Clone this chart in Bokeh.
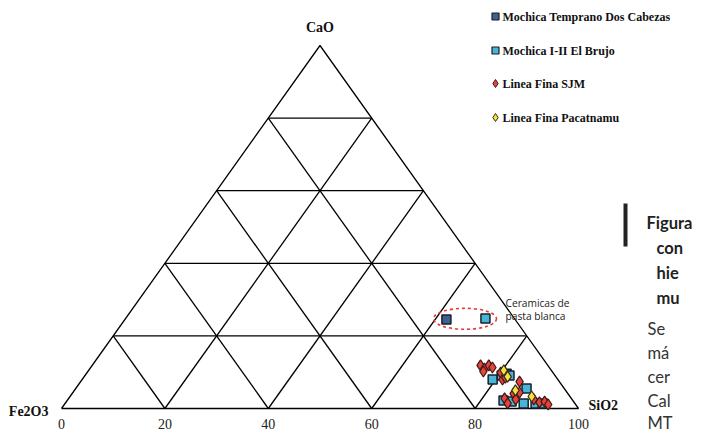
from bokeh.plotting import figure
from bokeh.models import Range1d
from bokeh.core.properties import value
from bokeh.embed import file_html
from bokeh.resources import INLINE

# ---------------- data (oxide percentages) ----------------
group_names = ["Mochica Temprano Dos Cabezas", "Mochica I-II El Brujo",
               "Linea Fina SJM", "Linea Fina Pacatnamu"]

dc_sio2 = [62.2, 81.3]
dc_cao = [24.5, 9.6]
dc_fe2o3 = [13.3, 9.1]

eb_sio2 = [69.6, 79.4, 80.6, 82.1, 87.2, 84.4, 86.1, 88.7, 91.0, 92.4]
eb_cao = [24.8, 8.0, 9.1, 9.1, 5.5, 2.2, 1.9, 1.4, 1.4, 1.4]
eb_fe2o3 = [5.6, 12.6, 10.3, 8.8, 7.3, 13.4, 12.0, 9.9, 7.6, 6.2]

sjm_sio2 = [75.1, 76.3, 76.7, 77.7, 76.5, 80.0, 81.3, 81.6, 84.9, 85.4,
            86.4, 84.3, 85.6, 86.6, 90.1, 91.6, 92.5, 93.6]
sjm_cao = [11.9, 11.0, 11.9, 11.3, 10.2, 9.9, 8.0, 8.5, 7.4, 4.1,
           4.4, 2.8, 1.4, 2.5, 2.5, 1.7, 1.9, 1.1]
sjm_fe2o3 = [13.0, 12.7, 11.4, 11.0, 13.3, 10.1, 10.7, 9.9, 7.7, 10.5,
             9.2, 12.9, 13.0, 10.9, 7.4, 6.7, 5.6, 5.3]

pac_sio2 = [80.3, 81.9, 85.3, 89.3]
pac_cao = [10.5, 8.8, 5.0, 3.3]
pac_fe2o3 = [9.2, 9.3, 9.7, 7.4]

grid_levels = [20, 40, 60, 80]
tick_values = [0, 20, 40, 60, 80, 100]
tick_labels = ["0", "20", "40", "60", "80", "100"]
apex_labels = ["CaO", "Fe2O3", "SiO2"]

note_lines = ["Ceramicas de", "pasta blanca"]
side_bold = ["Figura", "con", "hie", "mu"]
side_body = ["Se", "má", "cer", "Cal", "MT"]


def ternary(sio2, cao, fe):
    xs, ys = [], []
    for a, b, c in zip(sio2, cao, fe):
        t = a + b + c
        a, b = 100 * a / t, 100 * b / t
        xs.append(a + b / 2)
        ys.append(b)
    return xs, ys


# ---------------- layout helpers (picture pixel -> data) ----------------
def ix(px):
    return (px - 61) / 5.17


def iy(py):
    return (408 - py) / 3.63


W, H = 694, 431
p = figure(width=W, height=H,
           x_range=Range1d(ix(0), ix(W)), y_range=Range1d(iy(H), iy(0)),
           output_backend="svg", toolbar_location=None,
           x_axis_location=None, y_axis_location=None,
           min_border=0, outline_line_color=None,
           background_fill_color="white", border_fill_color="white")
p.xgrid.visible = False
p.ygrid.visible = False

# ---------------- ternary frame and grid ----------------
gx, gy = [], []
gx.append([0, 100, 50, 0])
gy.append([0, 0, 100, 0])
for g in grid_levels:
    gx.append([g / 2, 100 - g / 2]); gy.append([g, g])                # constant CaO
    gx.append([g, g + (100 - g) / 2]); gy.append([0, 100 - g])        # constant SiO2
    gx.append([100 - g, (100 - g) / 2]); gy.append([0, 100 - g])      # constant Fe2O3
p.multi_line(gx, gy, line_color="black", line_width=1.3)

# ---------------- highlight ellipse ----------------
p.ellipse(x=[ix(464.5)], y=[iy(318.3)], width=63 / 5.17, height=21 / 3.63,
          fill_color=None, line_color="#e53935", line_width=1.6, line_dash="3 3")

# ---------------- points ----------------
dcx, dcy = ternary(dc_sio2, dc_cao, dc_fe2o3)
ebx, eby = ternary(eb_sio2, eb_cao, eb_fe2o3)
sjx, sjy = ternary(sjm_sio2, sjm_cao, sjm_fe2o3)
pcx, pcy = ternary(pac_sio2, pac_cao, pac_fe2o3)

col_dc = "#3e5f8f"
col_eb = "#48b4d8"
col_sjm = "#e8433a"
col_pac = "#f1e43c"

p.scatter(dcx, dcy, marker="square", size=9, fill_color=col_dc,
          line_color="#1b1f2a", line_width=1.5)
p.scatter(ebx, eby, marker="square", size=9, fill_color=col_eb,
          line_color="#1b1f2a", line_width=1.5)
p.scatter(sjx, sjy, marker="diamond", size=11, fill_color=col_sjm,
          line_color="#3a1a1a", line_width=1.2)
p.scatter(pcx, pcy, marker="diamond", size=11, fill_color=col_pac,
          line_color="#3a2a1a", line_width=1.2)

# ---------------- tick labels ----------------
p.text(x=tick_values, y=[0] * len(tick_values), text=tick_labels,
       y_offset=15, text_align="center", text_baseline="middle",
       text_font=value("Liberation Serif"), text_font_size="14px",
       text_color="#222222")

# ---------------- vertex labels ----------------
serif_bold = dict(text_font=value("Liberation Serif"), text_font_style="bold",
                  text_font_size="14px", text_color="#111111",
                  text_baseline="middle")
p.text(x=[50], y=[100], text=[apex_labels[0]], y_offset=-18,
       text_align="center", **serif_bold)
p.text(x=[0], y=[0], text=[apex_labels[1]], x_offset=-13, y_offset=3,
       text_align="right", **serif_bold)
p.text(x=[100], y=[0], text=[apex_labels[2]], x_offset=10, y_offset=-3,
       text_align="left", **serif_bold)

# ---------------- annotation ----------------
p.text(x=[ix(505)] * 2, y=[iy(302), iy(315)], text=note_lines,
       text_font=value("Open Sans"), text_font_size="10.2px",
       text_color="#222222", text_align="left", text_baseline="middle")

# ---------------- legend (manual) ----------------
leg_y = [iy(16), iy(50), iy(83), iy(117)]
leg_x = ix(495)
p.scatter([leg_x], [leg_y[0]], marker="square", size=7, fill_color=col_dc,
          line_color="#1b1f2a", line_width=1.2)
p.scatter([leg_x], [leg_y[1]], marker="square", size=7, fill_color=col_eb,
          line_color="#1b1f2a", line_width=1.2)
p.scatter([leg_x], [leg_y[2]], marker="diamond", size=8, fill_color=col_sjm,
          line_color="#3a1a1a", line_width=1.0)
p.scatter([leg_x], [leg_y[3]], marker="diamond", size=8, fill_color=col_pac,
          line_color="#3a2a1a", line_width=1.0)
p.text(x=[ix(502)] * 4, y=leg_y, text=group_names,
       text_font=value("Liberation Serif"), text_font_style="bold",
       text_font_size="12px", text_color="#111111",
       text_align="left", text_baseline="middle")

# ---------------- side text (page text beside the figure) ----------------
p.segment(x0=[ix(625)], y0=[iy(203)], x1=[ix(625)], y1=[iy(246)],
          line_color="#222222", line_width=4)
bold_y = [iy(222), iy(247), iy(272), iy(297)]
bold_x = [ix(646), ix(656), ix(656), ix(656)]
p.text(x=bold_x, y=bold_y, text=side_bold,
       text_font=value("Lato"), text_font_style="bold", text_font_size="16.5px",
       text_color="#222222", text_align="left", text_baseline="middle")
body_y = [iy(328), iy(352), iy(376), iy(400), iy(422)]
p.text(x=[ix(647)] * 5, y=body_y, text=side_body,
       text_font=value("Lato"), text_font_size="16.5px",
       text_color="#333333", text_align="left", text_baseline="middle")

open("out.html", "w").write(file_html(p, INLINE))
